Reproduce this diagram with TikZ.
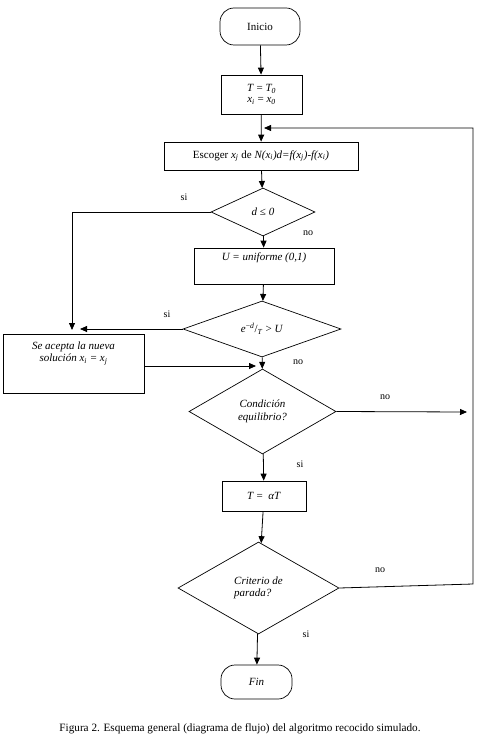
\documentclass[tikz,border=0pt]{standalone}
\usepackage{fontspec}
\setmainfont{Liberation Serif}
\usetikzlibrary{shapes.geometric,arrows.meta}
\newcommand{\bj}[1]{\textsubscript{#1}}

\begin{document}
\begin{tikzpicture}[x=1pt,y=-1pt]
		\tikzstyle{every node}=[font=\fontsize{11}{12.5}\selectfont]
		\tikzstyle{rotulo}=[font=\fontsize{10}{12}\selectfont]
		\tikzstyle{caja}=[draw, line width=.7pt, inner sep=0pt]
		\tikzstyle{termino}=[caja, rounded corners=14pt]
		\tikzstyle{decision}=[draw, line width=.7pt, diamond, inner sep=0pt, align=center]
		\tikzstyle{flecha}=[line width=.8pt, -{Triangle[length=7pt,width=6pt]}]
		\useasboundingbox (0,0) rectangle (477,738);
		% bloques
		\node[termino, minimum width=80pt, minimum height=37pt] (inicio) at (260,26.5) {Inicio};
		\node[caja, minimum width=81pt, minimum height=39pt, align=center] (init) at (261.5,94.5) {\textit{T} = \textit{T\bj{0}}\\[-2pt]\textit{x\bj{i}} = \textit{x\bj{0}}};
		\node[caja, minimum width=194pt, minimum height=28pt] (escoger) at (261,156) {Escoger \textit{x\bj{j}} de \textit{N(x\bj{i})d=f(x\bj{j})-f(x\bj{i})}};
		\node[decision, minimum width=104pt, minimum height=48pt] (dcero) at (263,212) {\textit{d} ≤ \textit{0}};
		\node[caja, minimum width=140pt, minimum height=36pt] (unif) at (264,266) {};
		\node (uniftxt) at (264,258) {\textit{U = uniforme (0,1)}};
		\node[decision, minimum width=158pt, minimum height=56pt] (acept) at (262,329) {\textit{e}\textsuperscript{−\textit{d}}/\bj{\textit{T}} > \textit{U}};
		\node[caja, minimum width=141pt, minimum height=59pt] (nueva) at (73.5,363.5) {};
		\node[align=center] (nuevatxt) at (73.5,353.5) {\textit{Se acepta la nueva}\\\textit{solución x\bj{i} = x\bj{j}}};
		\node[decision, minimum width=147pt, minimum height=85pt] (equil) at (262.5,411.5) {\textit{Condición}\\\textit{equilibrio?}};
		\node[caja, minimum width=84pt, minimum height=30pt] (enfria) at (264,496) {\textit{T} =\ \ \textit{αT}};
		\node[decision, minimum width=161pt, minimum height=92pt, align=left] (parada) at (258.5,588) {\textit{Criterio de}\\\textit{parada?}};
		\node[termino, minimum width=71pt, minimum height=34pt] (fin) at (256.5,682) {\textit{Fin}};
		% puntos de union
		\coordinate (llegaA) at (72,330);
		\coordinate (llegaB) at (80,329);
		\coordinate (llegaC) at (256,366);
		\coordinate (salidaC) at (144,366);
		\coordinate (derecha) at (467,412);
		\coordinate (vuelta1) at (473,584);
		\coordinate (vuelta2) at (473,128);
		\coordinate (vuelta3) at (264,128);
		% conectores
		\draw[flecha] (inicio) -- (init);
		\draw[flecha] (init) -- (escoger);
		\draw[flecha] (escoger) -- (dcero);
		\draw[flecha] (dcero.west) -| (llegaA);
		\draw[flecha] (dcero) -- (unif);
		\draw[flecha] (unif) -- (acept);
		\draw[flecha] (acept.west) -- (llegaB);
		\draw[flecha] (salidaC) -- (llegaC);
		\draw[flecha] (acept) -- (equil);
		\draw[flecha] (equil.east) -- (derecha);
		\draw[flecha] (equil) -- (enfria);
		\draw[flecha] (enfria) -- (parada);
		\draw[flecha] (parada.east) -- (vuelta1) -- (vuelta2) -- (vuelta3);
		\draw[flecha] (parada) -- (fin);
		% etiquetas
		\node[rotulo] (si1) at (184,197) {si};
		\node[rotulo] (no1) at (308,233) {no};
		\node[rotulo] (si2) at (167,314) {si};
		\node[rotulo] (no2) at (298,362) {no};
		\node[rotulo] (no3) at (385,397) {no};
		\node[rotulo] (si3) at (300,464) {si};
		\node[rotulo] (no4) at (380,570) {no};
		\node[rotulo] (si4) at (306,634) {si};
		\node[font=\fontsize{11.2}{13}\selectfont] (pie) at (240,729) {Figura 2. Esquema general (diagrama de flujo) del algoritmo recocido simulado.};
	\end{tikzpicture}
\end{document}
